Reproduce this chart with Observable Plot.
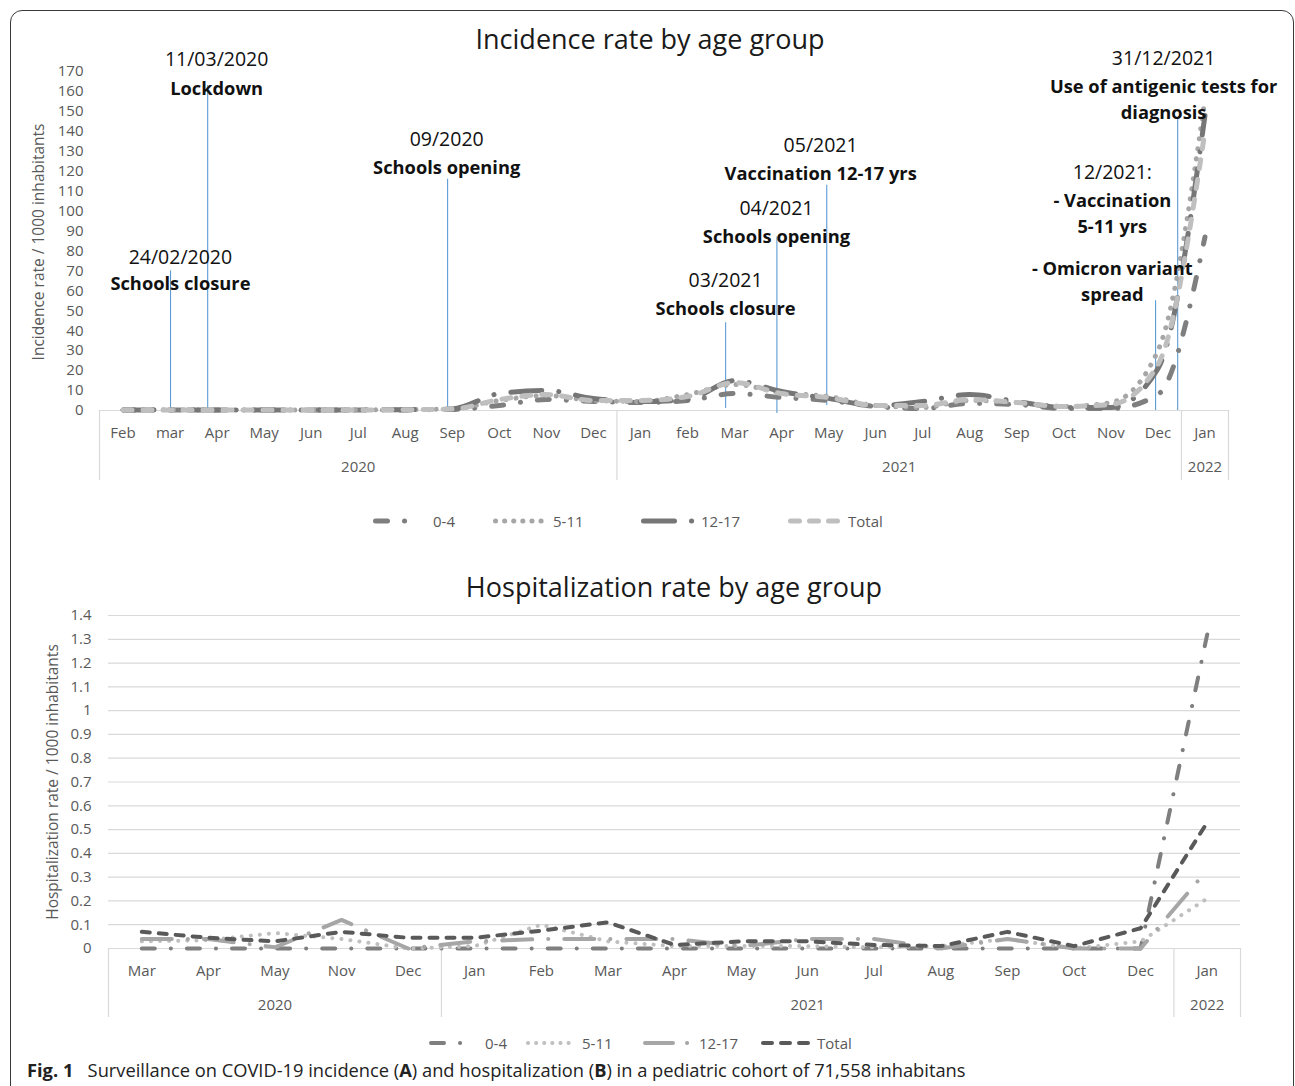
<!DOCTYPE html>
<html><head><meta charset="utf-8">
<script src="https://cdn.jsdelivr.net/npm/d3@7"></script>
<script src="https://cdn.jsdelivr.net/npm/@observablehq/plot@0.6"></script>
<style>
body{margin:0;background:#fff;font-family:"Open Sans",sans-serif;}
#page{position:relative;width:1295px;height:1086px;overflow:hidden;background:#fff;}
.frame{position:absolute;left:10px;top:10px;width:1282px;height:1200px;border:1.3px solid #3a3a3a;border-radius:12px;}
.title{position:absolute;transform:translate(-50%,-50%);font-size:27px;color:#1a1a1a;white-space:nowrap;}
.ytitle{position:absolute;transform:translate(-50%,-50%) rotate(-90deg);font-size:15.5px;color:#595959;white-space:nowrap;}
.chart{position:absolute;left:0;}
.legitem{position:absolute;height:20px;display:flex;align-items:center;font-size:15px;color:#595959;white-space:nowrap;transform:translateY(-50%);}
.legitem svg{margin-right:4px;}
.caption{position:absolute;left:27px;top:1069px;transform:translateY(-50%);font-size:18.3px;color:#222;white-space:nowrap;}
</style></head>
<body><div id="page"><div class="frame"></div></div>
<script>
// ---------- DATA ----------
// Incidence chart (A)
const monthsA = ["Feb","mar","Apr","May","Jun","Jul","Aug","Sep","Oct","Nov","Dec","Jan","feb","Mar","Apr","May","Jun","Jul","Aug","Sep","Oct","Nov","Dec","Jan"];
const yearsA = ["2020","2021","2022"];
const yearCenterA = [5, 16.5, 23];
const yearBoundsA = [-0.5, 10.5, 22.5, 23.5];
const yTicksA = [0,10,20,30,40,50,60,70,80,90,100,110,120,130,140,150,160,170];
const inc04   = [0.2,0.3,0.3,0.2,0.2,0.2,0.3,0.5,2.5,5.5,4.5,4.0,5.0,8.5,6.5,5.0,2.0,1.0,3.5,3.0,1.0,1.0,8.0,87];
const inc511  = [0.3,0.4,0.3,0.3,0.3,0.3,0.4,0.8,5.0,7.5,5.0,4.5,8.0,13.0,9.0,7.0,2.5,1.5,5.0,4.0,2.0,4.0,30,156];
const inc1217 = [0.2,0.3,0.3,0.2,0.2,0.3,0.4,0.8,8.5,10.0,6.0,4.5,5.5,15.0,9.5,6.0,2.5,4.5,8.0,4.5,1.5,1.5,21,148];
const incTot  = [0.3,0.3,0.3,0.3,0.3,0.3,0.4,0.7,5.5,8.0,5.0,5.0,7.0,14.0,8.5,6.5,2.5,2.5,5.5,4.0,2.0,3.0,23,140];
// event markers (x in month index, y in incidence units)
const eventX      = [1.01, 1.80, 6.90, 12.81, 13.90, 14.96, 21.95, 22.42];
const eventTop    = [70, 163, 116, 44, 87, 113, 55, 146];
const eventBottom = [0, 0, 0, 1, -1.5, 2.5, 0, 0];
const noteX    = [1.99, 1.99, 1.22, 1.22, 6.88, 6.88, 14.83, 14.83, 13.89, 13.89, 12.81, 12.81, 22.12, 22.12, 21.03, 21.03, 21.03];
const noteY    = [176.0, 162.5, 76.7, 64.7, 135.9, 122.9, 132.9, 119.9, 101.3, 88.3, 65.2, 52.2, 176.5, 157.0, 119.4, 99.8, 65.7];
const noteText = ["11/03/2020","Lockdown","24/02/2020","Schools closure","09/2020","Schools opening","05/2021","Vaccination 12-17 yrs","04/2021","Schools opening","03/2021","Schools closure","31/12/2021","Use of antigenic tests for\ndiagnosis","12/2021:","- Vaccination\n5-11 yrs","- Omicron variant\nspread"];
const noteBold = [false,true,false,true,false,true,false,true,false,true,false,true,false,true,false,true,true];

// Hospitalization chart (B)
const monthsB = ["Mar","Apr","May","Nov","Dec","Jan","Feb","Mar","Apr","May","Jun","Jul","Aug","Sep","Oct","Dec","Jan"];
const yearsB = ["2020","2021","2022"];
const yearCenterB = [2, 10, 16];
const yearBoundsB = [-0.5, 4.5, 15.5, 16.5];
const yTicksB = [0,0.1,0.2,0.3,0.4,0.5,0.6,0.7,0.8,0.9,1,1.1,1.2,1.3,1.4];
const hosp04   = [0,0,0,0,0,0,0,0,0,0,0,0,0,0,0,0,1.32];
const hosp511  = [0.03,0.035,0.065,0.04,0,0.01,0.1,0.03,0.01,0.01,0.01,0.005,0.01,0.04,0,0.03,0.21];
const hosp1217 = [0.04,0.04,0.005,0.12,0,0.03,0.04,0.04,0.04,0.01,0.04,0.04,0,0.04,0,0,0.33];
const hospTot  = [0.07,0.045,0.03,0.07,0.045,0.045,0.075,0.11,0.015,0.03,0.03,0.015,0.01,0.07,0.01,0.085,0.53];

const seriesNames = ["0-4","5-11","12-17","Total"];

// ---------- STYLES ----------
const FONT = '"Open Sans", sans-serif';
const styleA = {
  "0-4":   {stroke:"#7f7f7f", dash:"12,17,0.1,17", legDash:"12,17,0.1,200"},
  "5-11":  {stroke:"#a6a6a6", dash:"0.1,10", legDash:"0.1,9"},
  "12-17": {stroke:"#767676", dash:"31,17,0.1,17", legDash:"31,17,0.1,200"},
  "Total": {stroke:"#bfbfbf", dash:"9,11", legDash:"9,10"}
};
const widthA = 5;
const styleB = {
  "0-4":   {stroke:"#7f7f7f", dash:"13,16,0.1,16", legDash:"13,16,0.1,200"},
  "5-11":  {stroke:"#bfbfbf", dash:"0.1,9", legDash:"0.1,8"},
  "12-17": {stroke:"#a6a6a6", dash:"30,16,0.1,16", legDash:"28,14,0.1,200"},
  "Total": {stroke:"#595959", dash:"8,9", legDash:"9,9"}
};
const widthB = 4;

const page = document.getElementById("page");
function addDiv(cls, html, css){
  const d = document.createElement("div");
  d.className = cls; d.innerHTML = html; Object.assign(d.style, css); page.appendChild(d); return d;
}

function rows(arrs){
  return arrs.flatMap((vals, s) => vals.map((v, i) => ({i, v, s: seriesNames[s]})));
}

function lineMarks(data, style, w, curve){
  return seriesNames.map(name => Plot.line(data.filter(d => d.s === name), {
    x:"i", y:"v", stroke: style[name].stroke, strokeWidth: w,
    strokeDasharray: style[name].dash, strokeLinecap:"round", strokeLinejoin:"round", curve
  }));
}

// ---------- CHART A ----------
const dataA = rows([inc04, inc511, inc1217, incTot]);
const events = eventX.map((x, k) => ({x, y1: eventBottom[k], y2: eventTop[k]}));
const notes = noteX.map((x, k) => ({x, y: noteY[k], t: noteText[k], b: noteBold[k]}));
const chartA = Plot.plot({
  width:1295, height:490, marginLeft:99, marginRight:67, marginTop:71, marginBottom:80,
  x:{domain:[-0.5,23.5], axis:null, label:null},
  y:{domain:[0,170], axis:null, label:null},
  style:{fontFamily:FONT, fontSize:"15px", color:"#595959", background:"transparent", overflow:"visible"},
  marks:[
    Plot.ruleY([0], {stroke:"#d9d9d9", strokeWidth:1.2}),
    Plot.axisX({ticks: yearBoundsA, tickSize:70, tickFormat:() => "", stroke:"#d9d9d9", strokeOpacity:1, strokeWidth:1.2, label:null}),
    Plot.axisY({ticks: yTicksA, tickSize:0, tickPadding:16, fontSize:15, label:null, fill:"#595959"}),
    Plot.axisX({ticks: monthsA.map((m,i)=>i), tickFormat: i => monthsA[i], tickSize:0, tickPadding:17, fontSize:15, label:null, fill:"#595959"}),
    Plot.axisX({ticks: yearCenterA, tickFormat: d => yearsA[yearCenterA.indexOf(d)], tickSize:0, tickPadding:51, fontSize:15, label:null, fill:"#595959"}),
    Plot.ruleX(events, {x:"x", y1:"y1", y2:"y2", stroke:"#5b9bd5", strokeWidth:1.1}),
    ...lineMarks(dataA, styleA, widthA, "monotone-x"),
    Plot.text(notes.filter(d => !d.b), {x:"x", y:"y", text:"t", fontSize:19.5, fill:"#111", textAnchor:"middle", lineAnchor:"middle"}),
    Plot.text(notes.filter(d => d.b), {x:"x", y:"y", text:"t", fontSize:18.3, fontWeight:"bold", fill:"#111", textAnchor:"middle", lineAnchor:"middle", lineHeight:1.42})
  ]
});
chartA.classList.add("chart"); chartA.style.top = "0px";
page.appendChild(chartA);

// ---------- CHART B ----------
const dataB = rows([hosp04, hosp511, hosp1217, hospTot]);
const chartB = Plot.plot({
  width:1295, height:470, marginLeft:108, marginRight:55, marginTop:55, marginBottom:82,
  x:{domain:[-0.5,16.5], axis:null, label:null},
  y:{domain:[0,1.4], axis:null, label:null},
  style:{fontFamily:FONT, fontSize:"15px", color:"#595959", background:"transparent", overflow:"visible"},
  marks:[
    Plot.gridY({ticks: yTicksB, stroke:"#d9d9d9", strokeOpacity:1, strokeWidth:1.2}),
    Plot.axisX({ticks: yearBoundsB, tickSize:69, tickFormat:() => "", stroke:"#d9d9d9", strokeOpacity:1, strokeWidth:1.2, label:null}),
    Plot.axisY({ticks: yTicksB, tickSize:0, tickPadding:17, fontSize:15, label:null, fill:"#595959", tickFormat: d => String(d)}),
    Plot.axisX({ticks: monthsB.map((m,i)=>i), tickFormat: i => monthsB[i], tickSize:0, tickPadding:17, fontSize:15, label:null, fill:"#595959"}),
    Plot.axisX({ticks: yearCenterB, tickFormat: d => yearsB[yearCenterB.indexOf(d)], tickSize:0, tickPadding:51, fontSize:15, label:null, fill:"#595959"}),
    ...lineMarks(dataB, styleB, widthB, "linear")
  ]
});
chartB.classList.add("chart"); chartB.style.top = "560px";
page.appendChild(chartB);

// ---------- TITLES ----------
addDiv("title", "Incidence rate by age group", {left:"650px", top:"38px"});
addDiv("title", "Hospitalization rate by age group", {left:"674px", top:"586px"});
addDiv("ytitle", "Incidence rate / 1000 inhabitants", {left:"38px", top:"242px"});
addDiv("ytitle", "Hospitalization rate / 1000 inhabitants", {left:"52px", top:"782px"});

// ---------- LEGENDS ----------
function legend(style, w, y, labelLefts, sw){
  seriesNames.forEach((name, k) => {
    const item = document.createElement("div");
    item.className = "legitem";
    item.style.left = (labelLefts[k] - sw - 4) + "px";
    item.style.top = y + "px";
    const svg = d3.create("svg").attr("width", sw).attr("height", 12);
    svg.append("line").attr("x1", w/2).attr("x2", sw - w/2).attr("y1", 6).attr("y2", 6)
      .attr("stroke", style[name].stroke).attr("stroke-width", w)
      .attr("stroke-dasharray", style[name].legDash).attr("stroke-linecap","round");
    item.appendChild(svg.node());
    const sp = document.createElement("span"); sp.textContent = name; item.appendChild(sp);
    page.appendChild(item);
  });
}
legend(styleA, widthA, 521, [433, 553, 701, 848], 56);
legend(styleB, widthB, 1043, [485, 582, 699, 817], 52);

// ---------- CAPTION ----------
addDiv("caption", '<b>Fig. 1</b>&nbsp;&nbsp; Surveillance on COVID-19 incidence (<b>A</b>) and hospitalization (<b>B</b>) in a pediatric cohort of 71,558 inhabitans', {});
</script>
</body></html>
